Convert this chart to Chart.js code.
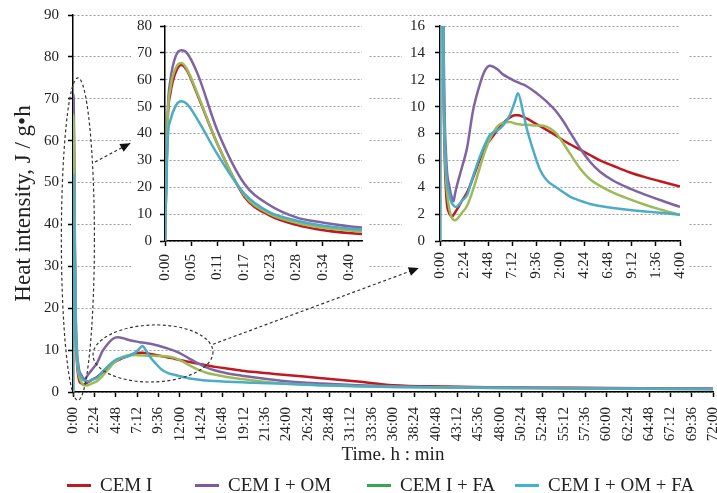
<!DOCTYPE html>
<html>
<head>
<meta charset="utf-8">
<script src="https://cdn.jsdelivr.net/npm/chart.js@4.4.1/dist/chart.umd.min.js"></script>
<style>
  body { margin: 0; background: #fff; }
  #wrap { position: relative; width: 717px; height: 493px; background: #fff; overflow: hidden; }
  #wrap canvas { position: absolute; }
  .inset { background: #fff; }
  #legend { position: absolute; left: 0; top: 474px; width: 717px; height: 22px;
    font-family: 'Liberation Serif', 'Times New Roman', serif; font-size: 19px; color: #222; }
  .item { position: absolute; top: 0; line-height: 22px; white-space: nowrap; }
  .item i { display: inline-block; width: 24px; height: 3px; margin-right: 9px; vertical-align: middle; position: relative; top: -1px; }
</style>
</head>
<body>
<div id="wrap">
  <canvas id="main" width="717" height="493" style="left:0;top:0"></canvas>
  <canvas id="early" class="inset" width="238" height="272" style="left:131px;top:18px"></canvas>
  <canvas id="zoom" class="inset" width="286" height="272" style="left:402px;top:18px"></canvas>
  <canvas id="marks" width="717" height="493" style="left:0;top:0;pointer-events:none"></canvas>
  <div id="legend"></div>
</div>
<script>
// series (time in hours, heat flow in J/g·h)
const seriesNames = ["CEM I", "CEM I + OM", "CEM I + FA", "CEM I + OM + FA"];
const hours = [0, 0.01, 0.02, 0.04, 0.06, 0.08, 0.12, 0.19, 0.29, 0.38, 0.48, 0.58, 0.72, 0.9, 1.05, 1.2, 1.35, 1.5, 1.65, 1.9,
  2.2, 2.7, 3.3, 4, 4.5, 5, 5.7, 6.3, 7, 7.5, 7.8, 8.3, 8.7, 9.3, 10, 10.7, 11.5, 12.3, 13, 14,
  15, 16, 17.3, 19, 20.5, 22, 24, 28, 32, 36, 42, 48, 56, 64, 72];
const cemI = [0, 45, 55, 63, 65.5, 63.5, 54, 36.5, 16.5, 9.6, 6.0, 4.0, 2.6, 2.1, 1.9, 1.8, 1.95, 2.1, 2.3, 2.6,
  3.0, 3.6, 4.7, 6.1, 7.0, 7.5, 8.2, 8.75, 9.2, 9.35, 9.35, 9.25, 9.1, 8.85, 8.55, 8.25, 7.9, 7.5, 7.2, 6.8,
  6.4, 6.0, 5.6, 5.1, 4.75, 4.45, 4.05, 3.3, 2.5, 1.6, 1.3, 1.1, 1.0, 0.9, 0.8];
const cemOm = [0, 48, 60, 69, 71, 70, 62, 41.5, 21.3, 13.5, 8.8, 6.8, 5.0, 4.2, 3.6, 3.2, 2.95, 3.5, 4.0, 4.7,
  5.5, 6.9, 9.7, 11.7, 12.7, 13.05, 12.8, 12.4, 12.1, 11.9, 11.8, 11.65, 11.5, 11.2, 10.8, 10.35, 9.75, 8.95, 8.1, 6.9,
  5.9, 5.15, 4.5, 3.9, 3.45, 3.05, 2.55, 2.0, 1.6, 1.35, 1.15, 1.05, 0.95, 0.85, 0.75];
const cemFa = [0, 46, 57, 64.5, 66.2, 64, 54.5, 36.5, 17, 10.2, 6.8, 4.9, 3.5, 2.5, 2.0, 1.7, 1.58, 1.55, 1.6, 1.8,
  2.1, 2.6, 3.8, 5.5, 6.7, 7.6, 8.5, 8.8, 8.85, 8.75, 8.7, 8.65, 8.65, 8.6, 8.6, 8.5, 8.1, 7.3, 6.5, 5.4,
  4.6, 4.1, 3.6, 3.1, 2.7, 2.35, 1.95, 1.6, 1.35, 1.2, 1.05, 0.95, 0.85, 0.75, 0.65];
const cemOmFa = [0, 38, 45, 50.5, 52, 51, 45, 32.5, 17.6, 10.8, 7.6, 5.7, 4.3, 3.6, 3.1, 2.8, 2.65, 2.55, 2.55, 2.7,
  3.0, 3.4, 4.8, 6.3, 7.2, 7.9, 8.2, 8.6, 9.4, 10.4, 11.0, 9.6, 8.3, 6.8, 5.3, 4.5, 4.05, 3.65, 3.3, 3.0,
  2.75, 2.6, 2.45, 2.3, 2.2, 2.1, 1.95, 1.6, 1.35, 1.2, 1.05, 0.95, 0.85, 0.75, 0.65];

// tick labels as printed (the 0-24 h inset drops the tens digit)
const mainTickLabels = ["0:00", "2:24", "4:48", "7:12", "9:36", "12:00", "14:24", "16:48", "19:12", "21:36", "24:00",
  "26:24", "28:48", "31:12", "33:36", "36:00", "38:24", "40:48", "43:12", "45:36", "48:00", "50:24", "52:48",
  "55:12", "57:36", "60:00", "62:24", "64:48", "67:12", "69:36", "72:00"];
const earlyTickLabels = ["0:00", "0:05", "0:11", "0:17", "0:23", "0:28", "0:34", "0:40"];
const zoomTickLabels = ["0:00", "2:24", "4:48", "7:12", "9:36", "2:00", "4:24", "6:48", "9:12", "1:36", "4:00"];

const COLORS = ["#c0191f", "#8064a2", "#9bbb59", "#4bacc6"];
const LEGEND_COLORS = ["#c0191f", "#7d58aa", "#33a852", "#3cb3d8"];
const FONT = "'Liberation Serif', 'Times New Roman', serif";
const TEXT = "#222";

function datasets(width) {
  return [cemI, cemOm, cemFa, cemOmFa].map((vals, i) => ({
    label: seriesNames[i],
    data: hours.map((h, k) => ({ x: h, y: vals[k] })),
    borderColor: COLORS[i],
    backgroundColor: COLORS[i],
    borderWidth: width,
    pointRadius: 0,
    fill: false,
    cubicInterpolationMode: "monotone",
    order: 3 - i
  }));
}

function xAxis(max, step, labels, size, pad, height, title) {
  return {
    type: "linear", min: 0, max: max,
    afterBuildTicks: s => { s.ticks = labels.map((_, i) => ({ value: i * step })); },
    afterFit: s => { s.height = height; s.paddingLeft = 0; s.paddingRight = 0; },
    grid: { drawOnChartArea: false, tickLength: 5, tickColor: "#000", tickWidth: 1.5 },
    border: { color: "#000", width: 1.5 },
    ticks: { autoSkip: false, minRotation: 90, maxRotation: 90, padding: pad, color: TEXT,
      font: { family: FONT, size: size }, callback: (v, i) => labels[i] },
    title: title || { display: false }
  };
}

function yAxis(max, step, width, pad, title) {
  return {
    min: 0, max: max,
    afterFit: s => { s.width = width; s.paddingTop = 0; s.paddingBottom = 0; },
    grid: { color: "#9a9a9a", lineWidth: 1, tickLength: 5, tickColor: "#000", tickWidth: 1.5 },
    border: { color: "#000", width: 1.5, dash: [2, 2] },
    ticks: { stepSize: step, padding: pad, color: TEXT, font: { family: FONT, size: 15 } },
    title: title || { display: false }
  };
}

function baseOptions(padding, x, y) {
  return {
    responsive: false, animation: false, devicePixelRatio: 1,
    layout: { padding: padding },
    plugins: { legend: { display: false }, tooltip: { enabled: false } },
    scales: { x: x, y: y }
  };
}

// dashed ellipses and arrows linking the main plot to the insets
function arrow(ctx, x1, y1, x2, y2) {
  ctx.beginPath(); ctx.moveTo(x1, y1); ctx.lineTo(x2, y2); ctx.stroke();
  const a = Math.atan2(y2 - y1, x2 - x1);
  ctx.save();
  ctx.setLineDash([]);
  ctx.translate(x2, y2); ctx.rotate(a);
  ctx.beginPath(); ctx.moveTo(0, 0); ctx.lineTo(-10, -4.5); ctx.lineTo(-10, 4.5); ctx.closePath(); ctx.fill();
  ctx.restore();
}

const notes = {
  id: "notes",
  afterDraw(chart) {
    const { x, y } = chart.scales;
    const px = v => x.getPixelForValue(v), py = v => y.getPixelForValue(v);
    const ctx = document.getElementById("marks").getContext("2d");
    ctx.clearRect(0, 0, 717, 493);
    ctx.save();
    ctx.strokeStyle = "#333"; ctx.fillStyle = "#111";
    ctx.lineWidth = 1.2; ctx.setLineDash([3, 2.5]);
    ctx.beginPath();
    ctx.ellipse(px(0.55), py(36.5), px(2.41) - px(0.55), py(0) - py(38.5), 0, 0, Math.PI * 2);
    ctx.stroke();
    ctx.beginPath();
    ctx.ellipse(px(9.0), py(9.2), px(15.75) - px(9.0), py(0) - py(6.8), -0.03, 0, Math.PI * 2);
    ctx.stroke();
    arrow(ctx, px(2.47), py(54.9), px(6.45), py(59.4));
    arrow(ctx, px(15.75), py(11.4), px(38.9), py(29.6));
    ctx.restore();
  }
};

new Chart(document.getElementById("main"), {
  type: "line",
  data: { datasets: datasets(2.5) },
  options: baseOptions({ left: 0, right: 4, top: 15, bottom: 27 },
    xAxis(72, 2.4, mainTickLabels, 15, 10, 74,
      { display: true, text: "Time. h : min", color: TEXT, font: { family: FONT, size: 19 }, padding: 0 }),
    yAxis(90, 10, 73, 9,
      { display: true, text: "Heat intensity, J / g\u2022h", color: TEXT, font: { family: FONT, size: 23 },
        padding: { top: 10, bottom: 0 } })),
  plugins: [notes]
});

new Chart(document.getElementById("early"), {
  type: "line",
  data: { datasets: datasets(2.5) },
  options: baseOptions({ left: 0, right: 7, top: 8, bottom: 0 },
    xAxis(0.72, 0.096, earlyTickLabels, 15, 8, 49),
    yAxis(80, 10, 34, 8))
});

new Chart(document.getElementById("zoom"), {
  type: "line",
  data: { datasets: datasets(2.5) },
  options: baseOptions({ left: 0, right: 8, top: 8, bottom: 0 },
    xAxis(24, 2.4, zoomTickLabels, 15, 6, 49),
    yAxis(16, 2, 38, 10))
});

// legend
const legendX = [67, 195, 367, 515];
const legend = document.getElementById("legend");
seriesNames.forEach((name, i) => {
  const item = document.createElement("span");
  item.className = "item";
  item.style.left = legendX[i] + "px";
  item.innerHTML = '<i style="background:' + LEGEND_COLORS[i] + '"></i>' + name;
  legend.appendChild(item);
});
</script>
</body>
</html>
